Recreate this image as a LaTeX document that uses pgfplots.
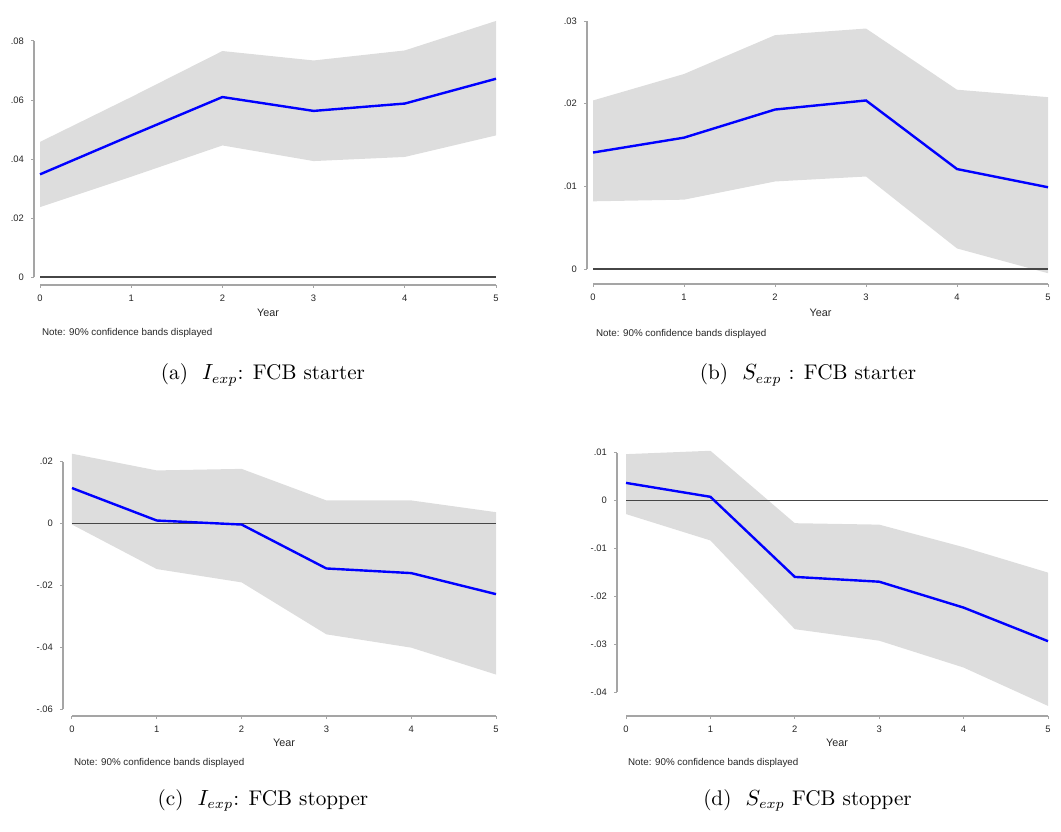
\documentclass[border=0pt]{standalone}
\usepackage{fontspec}
\usepackage{pgfplots}
\usepackage{pgfplotstable}
\pgfplotsset{compat=1.18}
\usepgfplotslibrary{fillbetween}
\newfontfamily\arial{Liberation Sans}
\definecolor{bandgray}{RGB}{221,221,221}
\definecolor{axgray}{RGB}{165,165,165}
\definecolor{zerogray}{RGB}{70,70,70}
\definecolor{stblue}{RGB}{0,0,255}

\pgfplotstableread{
t y hi lo
0 0.0348 0.0458 0.0237
1 0.0480 0.0610 0.0340
2 0.0610 0.0766 0.0446
3 0.0563 0.0734 0.0393
4 0.0588 0.0768 0.0407
5 0.0672 0.0868 0.0480
}\dataA
\pgfplotstableread{
t y hi lo
0 0.0141 0.0204 0.0082
1 0.0159 0.0236 0.0084
2 0.0193 0.0283 0.0106
3 0.0204 0.0291 0.0112
4 0.0121 0.0217 0.0025
5 0.0099 0.0208 -0.0005
}\dataB
\pgfplotstableread{
t y hi lo
0 0.0115 0.0226 -0.0003
1 0.0010 0.0172 -0.0147
2 -0.0003 0.0177 -0.0190
3 -0.0145 0.0075 -0.0358
4 -0.0160 0.0075 -0.0401
5 -0.0228 0.0037 -0.0488
}\dataC
\pgfplotstableread{
t y hi lo
0 0.0037 0.0097 -0.0028
1 0.0008 0.0104 -0.0083
2 -0.0159 -0.0047 -0.0268
3 -0.0169 -0.0050 -0.0292
4 -0.0223 -0.0097 -0.0348
5 -0.0293 -0.0150 -0.0428
}\dataD

\pgfplotsset{
  stpanel/.style={
    scale only axis, clip=false, anchor=south west,
    axis x line*=bottom, axis y line*=left,
    axis line style={draw=none,-},
    tick align=outside, major tick length=1.5pt,
    tick style={axgray, line width=0.5pt},
    xtick={0,1,2,3,4,5}, xmax=5,
    scaled y ticks=false, scaled x ticks=false,
    ticklabel style={font=\arial\fontsize{4.7}{5}\selectfont, text=black!85},
    /pgf/number format/assume math mode=true,
  },
}
\tikzset{
  bandfill/.style={fill=bandgray, draw=none},
  est/.style={stblue, line width=1.2pt},
  zero/.style={zerogray, line width=0.75pt},
  yearlab/.style={font=\arial\fontsize{5.4}{6}\selectfont, text=black!85},
  notelab/.style={font=\arial\fontsize{4.9}{6}\selectfont, anchor=west, text=black!85},
  caplab/.style={anchor=base, font=\fontsize{10.6}{12}\selectfont},
}

\begin{document}
\begin{tikzpicture}
\path (0,0) rectangle (530.5pt,415.5pt);

% (a)
\begin{axis}[stpanel, at={(17pt,273pt)}, width=231pt, height=133.8pt,
  xmin=-0.0658, ymin=-0.0027, ymax=0.088,
  ytick={0,0.02,0.04,0.06,0.08}, yticklabels={0,.02,.04,.06,.08}]
\addplot[name path=U, draw=none] table[x=t,y=hi]{\dataA};
\addplot[name path=L, draw=none] table[x=t,y=lo]{\dataA};
\addplot[bandfill] fill between[of=U and L];
\addplot[zero] coordinates {(0,0) (5,0)};
\addplot[est] table[x=t,y=y]{\dataA};
\draw[axgray, line width=0.6pt] (axis cs:0,-0.0027) -- (axis cs:5,-0.0027);
\draw[axgray, line width=0.6pt] (axis cs:-0.0658,0) -- (axis cs:-0.0658,0.08);
\node[yearlab] at (axis cs:2.5,-0.0027) [yshift=-14pt] {Year};
\node[notelab] at (rel axis cs:0,0) [xshift=0.5pt, yshift=-24pt] {Note: 90\% confidence bands displayed};
\end{axis}

% (b)
\begin{axis}[stpanel, at={(293.5pt,273.5pt)}, width=230.5pt, height=136pt,
  xmin=-0.066, ymin=-0.0018, ymax=0.0311,
  ytick={0,0.01,0.02,0.03}, yticklabels={0,.01,.02,.03}]
\addplot[name path=U, draw=none] table[x=t,y=hi]{\dataB};
\addplot[name path=L, draw=none] table[x=t,y=lo]{\dataB};
\addplot[bandfill] fill between[of=U and L];
\addplot[zero] coordinates {(0,0) (5,0)};
\addplot[est] table[x=t,y=y]{\dataB};
\draw[axgray, line width=0.6pt] (axis cs:0,-0.0018) -- (axis cs:5,-0.0018);
\draw[axgray, line width=0.6pt] (axis cs:-0.066,0) -- (axis cs:-0.066,0.03);
\node[yearlab] at (axis cs:2.5,-0.0018) [yshift=-14.5pt] {Year};
\node[notelab] at (rel axis cs:0,0) [xshift=1pt, yshift=-25pt] {Note: 90\% confidence bands displayed};
\end{axis}

% (c)
\begin{axis}[stpanel, at={(31.5pt,57.5pt)}, width=216.5pt, height=133pt,
  xmin=-0.106, ymin=-0.0622, ymax=0.0238,
  ytick={-0.06,-0.04,-0.02,0,0.02}, yticklabels={-.06,-.04,-.02,0,.02}]
\addplot[name path=U, draw=none] table[x=t,y=hi]{\dataC};
\addplot[name path=L, draw=none] table[x=t,y=lo]{\dataC};
\addplot[bandfill] fill between[of=U and L];
\addplot[zero] coordinates {(0,0) (5,0)};
\addplot[est] table[x=t,y=y]{\dataC};
\draw[axgray, line width=0.6pt] (axis cs:0,-0.0622) -- (axis cs:5,-0.0622);
\draw[axgray, line width=0.6pt] (axis cs:-0.106,-0.06) -- (axis cs:-0.106,0.02);
\node[yearlab] at (axis cs:2.5,-0.0622) [yshift=-13.5pt] {Year};
\node[notelab] at (rel axis cs:0,0) [xshift=2pt, yshift=-23.5pt] {Note: 90\% confidence bands displayed};
\end{axis}

% (d)
\begin{axis}[stpanel, at={(308.5pt,57.5pt)}, width=215.5pt, height=133pt,
  xmin=-0.107, ymin=-0.0449, ymax=0.01056,
  ytick={-0.04,-0.03,-0.02,-0.01,0,0.01}, yticklabels={-.04,-.03,-.02,-.01,0,.01}]
\addplot[name path=U, draw=none] table[x=t,y=hi]{\dataD};
\addplot[name path=L, draw=none] table[x=t,y=lo]{\dataD};
\addplot[bandfill] fill between[of=U and L];
\addplot[zero] coordinates {(0,0) (5,0)};
\addplot[est] table[x=t,y=y]{\dataD};
\draw[axgray, line width=0.6pt] (axis cs:0,-0.0449) -- (axis cs:5,-0.0449);
\draw[axgray, line width=0.6pt] (axis cs:-0.107,-0.04) -- (axis cs:-0.107,0.01);
\node[yearlab] at (axis cs:2.5,-0.0449) [yshift=-13.5pt] {Year};
\node[notelab] at (rel axis cs:0,0) [xshift=2pt, yshift=-23.5pt] {Note: 90\% confidence bands displayed};
\end{axis}

% captions
\node[caplab] at (131.5pt,225.5pt) {(a)\ \ $I_{exp}$: FCB starter};
\node[caplab] at (404pt,225.5pt) {(b)\ \ $S_{exp}$ : FCB starter};
\node[caplab] at (131.5pt,13pt) {(c)\ \ $I_{exp}$: FCB stopper};
\node[caplab] at (403.75pt,13pt) {(d)\ \ $S_{exp}$ FCB stopper};
\end{tikzpicture}
\end{document}
